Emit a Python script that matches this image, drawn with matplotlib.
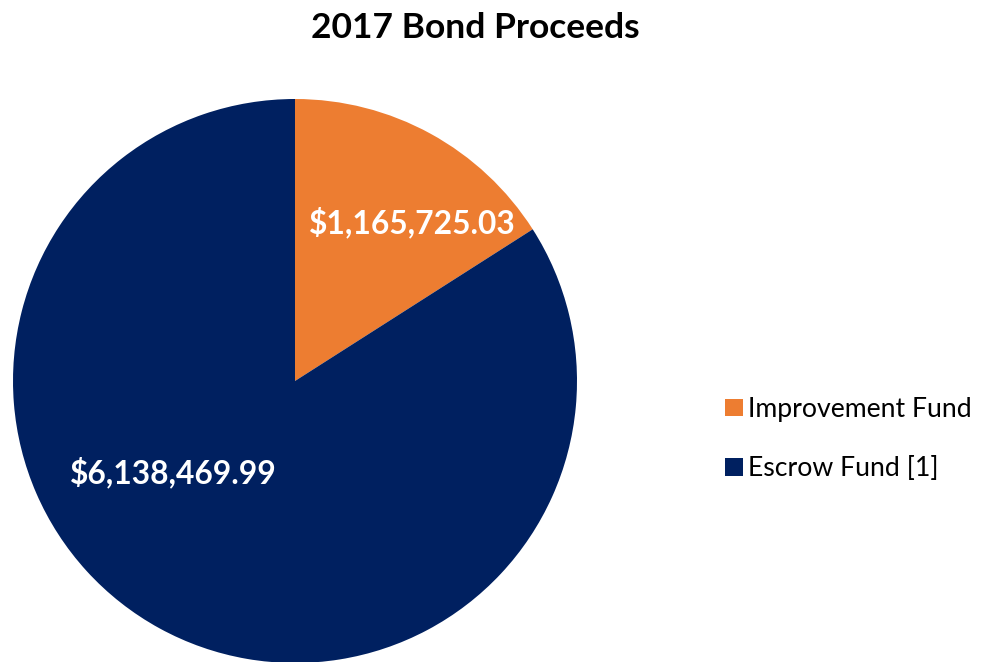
import numpy as np
import matplotlib
matplotlib.use('Agg')
import matplotlib.pyplot as plt

# Chart values
labels = ['Improvement Fund', 'Escrow Fund [1]']
values = [1165725.03, 6138469.99]
colors = ['#ED7D31', '#002060']
value_text = ['$1,165,725.03', '$6,138,469.99']
# label spots (radius fraction, angle in degrees), like Excel's best fit
label_spots = [(0.70, 53.5), (0.54, 216.7)]

plt.rcParams['font.family'] = ['Lato', 'DejaVu Sans']

fig = plt.figure(figsize=(9.81, 6.62), dpi=100)
fig.text(0.485, 0.958, '2017 Bond Proceeds', ha='center', va='center',
         fontsize=25.5, fontweight='bold', color='black')

ax = fig.add_axes([13 / 981, -1 / 662, 564 / 981, 564 / 662])
wedges, _ = ax.pie(values, colors=colors, startangle=90, counterclock=False,
                   radius=1, wedgeprops=dict(linewidth=0))
ax.set_xlim(-1, 1)
ax.set_ylim(-1, 1)
ax.set_aspect('equal')
ax.axis('off')

for txt, (r, ang) in zip(value_text, label_spots):
    a = np.deg2rad(ang)
    ax.text(r * np.cos(a), r * np.sin(a), txt, ha='center', va='center',
            color='white', fontsize=22.9, fontweight='bold')

leg = fig.legend(wedges, labels, loc='center left', bbox_to_anchor=(0.715, 0.337),
                 frameon=False, fontsize=19.2, handlelength=0.65, handleheight=0.65,
                 handletextpad=0.2, labelspacing=1.28)

fig.savefig('out.png', dpi=100)
